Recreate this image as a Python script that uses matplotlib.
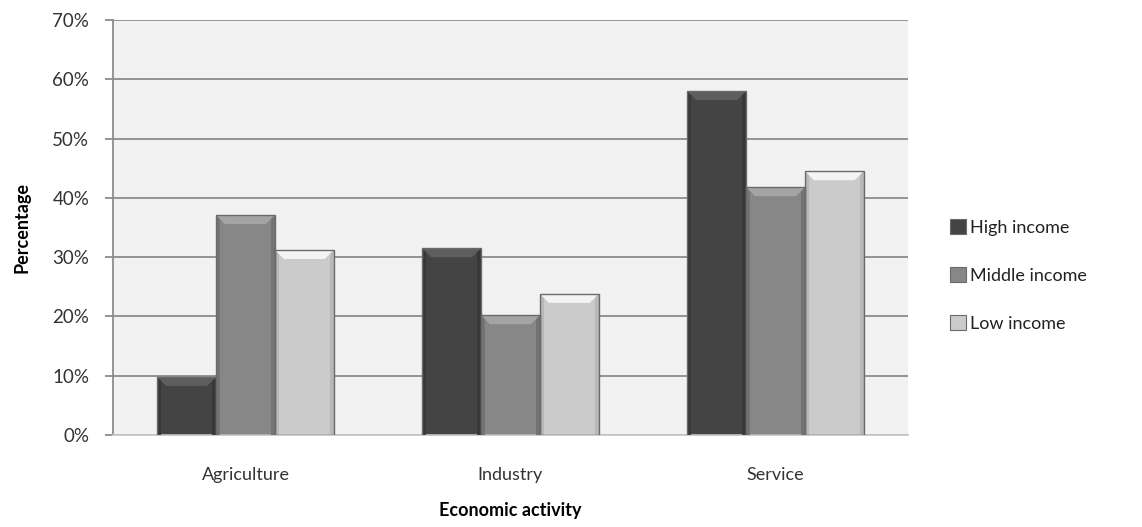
import numpy as np
import matplotlib
matplotlib.use("Agg")
import matplotlib.pyplot as plt
from matplotlib.patches import Polygon, Rectangle
from matplotlib.ticker import PercentFormatter

plt.rcParams['font.family'] = ['Lato', 'DejaVu Sans']

categories = ['Agriculture', 'Industry', 'Service']
groups = ['High income', 'Middle income', 'Low income']
high = [9.8, 31.5, 58.0]
middle = [37.1, 20.2, 41.8]
low = [31.2, 23.8, 44.5]

colors = ['#444444', '#878787', '#cbcbcb']
tops = ['#5e5e5e', '#a4a4a4', '#f4f4f4']
sides = ['#383838', '#747474', '#b8b8b8']


def bevel(ax, rect, face, top, side, bx, by):
    # fake the Excel bevel: light cap with slanted corners, darker side strips
    x0, y0 = rect.get_x(), rect.get_y()
    w, h = rect.get_width(), rect.get_height()
    x1, y1 = x0 + w, y0 + h
    d = min(by, h / 2)
    sx = bx * 0.45
    ax.add_patch(Rectangle((x0, y0), sx, h, color=side, lw=0, zorder=3))
    ax.add_patch(Rectangle((x1 - sx, y0), sx, h, color=side, lw=0, zorder=3))
    ax.add_patch(Polygon([(x0, y1), (x1, y1), (x1 - bx, y1 - d), (x0 + bx, y1 - d)],
                         closed=True, color=top, lw=0, zorder=4))
    ax.add_patch(Rectangle((x0, y0), w, h, fill=False, ec='#6a6a6a', lw=1.0, zorder=5))


fig = plt.figure(figsize=(11.42, 5.27), dpi=100)
ax = fig.add_axes([0.0989, 0.1746, 0.6962, 0.7874])
ax.set_facecolor('#f2f2f2')

x = np.arange(len(categories))
w = 0.222
series = [high, middle, low]
ax.set_xlim(-0.5, 2.5)
ax.set_ylim(0, 70)

# bevel size in data units (about 9 px across and down)
px_x = 795 / 3.0
px_y = 415 / 70.0
bx, by = 9 / px_x, 9 / px_y

handles = []
for i, vals in enumerate(series):
    bars = ax.bar(x + (i - 1) * w, vals, w, color=colors[i], lw=0,
                  zorder=2, label=groups[i])
    handles.append(bars)
    for r in bars:
        bevel(ax, r, colors[i], tops[i], sides[i], bx, by)

ax.yaxis.set_major_formatter(PercentFormatter(decimals=0))
ax.set_yticks(np.arange(0, 71, 10))
ax.set_xticks(x)
ax.set_xticklabels(categories)
ax.grid(axis='y', color='#8c8c8c', lw=1.3, zorder=1)
ax.set_axisbelow(True)

for s in ['top', 'right']:
    ax.spines[s].set_visible(False)
ax.spines['left'].set_color('#8c8c8c')
ax.spines['left'].set_linewidth(1.3)
ax.spines['bottom'].set_color('#c8c8c8')
ax.spines['bottom'].set_linewidth(1.3)

ax.tick_params(axis='y', length=6, width=1.3, color='#8c8c8c', pad=11,
               labelsize=13.5, labelcolor='#333333')
ax.tick_params(axis='x', length=0, pad=23, labelsize=13, labelcolor='#333333')

ax.set_ylabel('Percentage', fontsize=13, fontweight='bold', labelpad=16)
ax.set_xlabel('Economic activity', fontsize=13, fontweight='bold', labelpad=14)

leg = fig.legend(handles=handles, labels=groups, loc='center left',
                 bbox_to_anchor=(0.818, 0.477), frameon=False, fontsize=13,
                 handlelength=0.85, handleheight=0.85, handletextpad=0.25,
                 labelspacing=1.75)
for t in leg.get_texts():
    t.set_color('#222222')
for h in leg.legend_handles:
    h.set_edgecolor('#6a6a6a')
    h.set_linewidth(0.8)

fig.savefig('out.png', dpi=100, facecolor='white')
